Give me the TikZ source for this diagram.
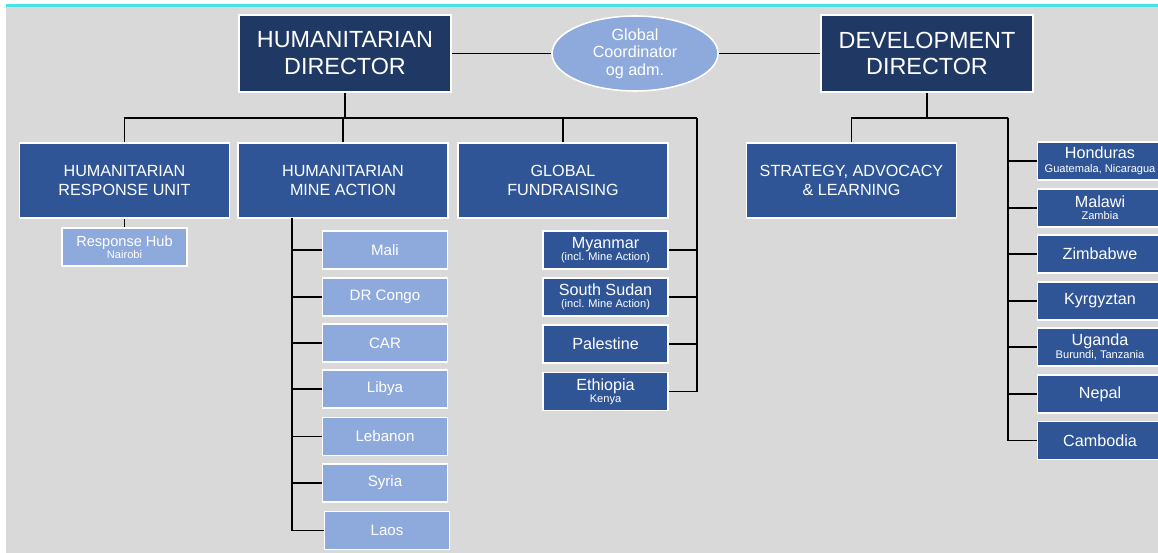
\documentclass[tikz,border=0pt]{standalone}
\usepackage{fontspec}
\setmainfont{Liberation Sans}
\usepackage{tikz}
\usetikzlibrary{shapes.geometric}
\definecolor{orgnavy}{RGB}{31,56,100}
\definecolor{orgblue}{RGB}{47,85,151}
\definecolor{orglight}{RGB}{142,169,219}
\definecolor{orggrey}{RGB}{217,217,217}
\definecolor{orgcyan}{RGB}{72,226,230}
\newcommand{\subline}[1]{{\fontsize{6.3}{7}\selectfont #1}}

\begin{document}
\begin{tikzpicture}[
    x=0.02cm, y=-0.02cm,
    box/.style={rectangle, draw=white, line width=0.9pt, text=white, inner sep=0pt, align=center},
    director/.style={box, fill=orgnavy, minimum width=4.24cm, minimum height=1.54cm,
                     font=\fontsize{13.3}{15.3}\selectfont},
    unit/.style={box, fill=orgblue, minimum width=4.2cm, minimum height=1.5cm,
                 font=\fontsize{9.2}{11.3}\selectfont},
    country/.style={box, fill=orgblue, minimum width=2.5cm, minimum height=0.76cm,
                    font=\fontsize{9.2}{10}\selectfont},
    mine/.style={country, fill=orglight, font=\fontsize{8.6}{10}\selectfont},
    link/.style={line width=1.1pt, black},
]
    % page: white margin, grey slide, cyan rule
    \useasboundingbox (0,0) rectangle (1158,553);
    \fill[white] (0,0) rectangle (1158,553);
    \fill[orggrey] (6,6) rectangle (1158,553);
    \draw[orgcyan, line width=1.4pt] (6,5.5) -- (1158,5.5);

    % directors and coordinator
    \node[director] (hd) at (345,53.5) {HUMANITARIAN\\DIRECTOR};
    \node[director] (dd) at (927,53.5) {DEVELOPMENT\\DIRECTOR};
    \node[ellipse, draw=white, line width=0.9pt, fill=orglight, text=white,
          minimum width=3.32cm, minimum height=1.5cm, inner sep=0pt, align=center,
          font=\fontsize{9.2}{10}\selectfont] (coord) at (635,53.5) {Global\\Coordinator\\og adm.};

    % units
    \node[unit] (hru) at (124.5,180.5) {HUMANITARIAN\\RESPONSE UNIT};
    \node[unit] (hma) at (343,180.5) {HUMANITARIAN\\MINE ACTION};
    \node[unit] (gf) at (563,180.5) {GLOBAL\\FUNDRAISING};
    \node[unit] (sal) at (851.5,180.5) {STRATEGY, ADVOCACY\\\& LEARNING};

    \node[mine, font=\fontsize{8.3}{9}\selectfont] (hub) at (124.5,247) {Response Hub\\[-2pt]\subline{Nairobi}};

    % mine action countries
    \node[mine] (mali) at (385,250) {Mali};
    \node[mine] (drc) at (385,297) {DR Congo};
    \node[mine] (car) at (385,343) {CAR};
    \node[mine] (libya) at (385,389) {Libya};
    \node[mine] (lebanon) at (385,436.5) {Lebanon};
    \node[mine] (syria) at (385,483) {Syria};
    \node[mine] (laos) at (387,530.5) {Laos};

    % fundraising countries
    \node[country] (myanmar) at (605.5,250) {Myanmar\\[-3pt]\subline{(incl. Mine Action)}};
    \node[country] (ssudan) at (605.5,297) {South Sudan\\[-3pt]\subline{(incl. Mine Action)}};
    \node[country] (palestine) at (605.5,344) {Palestine};
    \node[country] (ethiopia) at (605.5,391.5) {Ethiopia\\[-3pt]\subline{Kenya}};

    % development countries
    \node[country] (honduras) at (1100,161) {Honduras\\[-2pt]\subline{Guatemala, Nicaragua}};
    \node[country] (malawi) at (1100,208) {Malawi\\[-3pt]\subline{Zambia}};
    \node[country] (zimbabwe) at (1100,254) {Zimbabwe};
    \node[country] (kyrgyztan) at (1100,301) {Kyrgyztan};
    \node[country] (uganda) at (1100,347) {Uganda\\[-3pt]\subline{Burundi, Tanzania}};
    \node[country] (nepal) at (1100,394) {Nepal};
    \node[country] (cambodia) at (1100,440.5) {Cambodia};

    % joints
    \coordinate (hjoin) at (345,118);
    \coordinate (gfspine) at (697,118);
    \coordinate (hmaspine) at (292,218);
    \coordinate (djoin) at (927,118);
    \coordinate (dspine) at (1008,118);

    % connectors
    \draw[link] (hd) -- (coord);
    \draw[link] (coord) -- (dd);
    \draw[link] (hd.south) -- (hjoin);
    \draw[link] (hru.north) |- (hjoin);
    \draw[link] (hma.north) -- (hma.north |- hjoin);
    \draw[link] (gf.north) |- (hjoin);
    \draw[link] (hjoin) -- (gfspine);
    \draw[link] (hru) -- (hub);
    \foreach \c in {mali, drc, car, libya, lebanon, syria, laos}
        \draw[link] (hmaspine) |- (\c.west);
    \foreach \c in {myanmar, ssudan, palestine, ethiopia}
        \draw[link] (gfspine) |- (\c.east);
    \draw[link] (dd.south) -- (djoin);
    \draw[link] (sal.north) |- (djoin);
    \draw[link] (djoin) -- (dspine);
    \foreach \c in {honduras, malawi, zimbabwe, kyrgyztan, uganda, nepal, cambodia}
        \draw[link] (dspine) |- (\c.west);
\end{tikzpicture}
\end{document}
